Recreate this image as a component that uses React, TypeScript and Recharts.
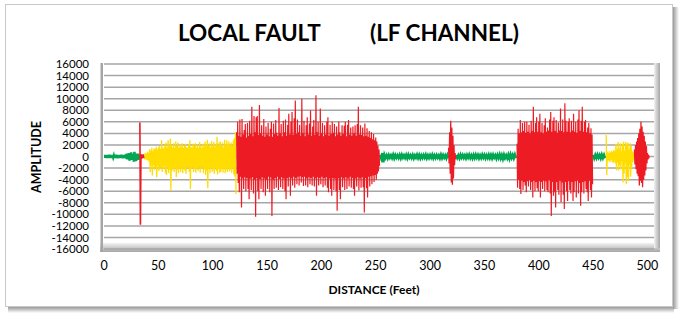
import { CartesianGrid, Line, LineChart, XAxis, YAxis } from "recharts";

const GREEN = "#00A651";
const YELLOW = "#FFDD00";
const RED = "#ED1C24";
const FONT = "Lato, 'Liberation Sans', sans-serif";

const xTicks = [0, 50, 100, 150, 200, 250, 300, 350, 400, 450, 500];
const yTicks = [
  -16000, -14000, -12000, -10000, -8000, -6000, -4000, -2000, 0, 2000, 4000,
  6000, 8000, 10000, 12000, 14000, 16000,
];

// each trace: first distance (ft), spacing (ft), upper peaks, lower peaks

// 0 - 32 ft, green
const green1Hi = [150, 250, 200, 250, 150, 300, 200, 250, 200, 150, 250, 300, 200, 250, 200, 250, 300, 200, 250, 200, 350, 500, 300, 600, 350, 700, 400, 450, 800, 500, 400, 500, 300];
const green1Lo = [-200, -150, -250, -200, -250, -150, -250, -200, -150, -250, -200, -250, -300, -200, -250, -150, -250, -300, -250, -200, -350, -500, -350, -700, -400, -600, -450, -900, -600, -800, -450, -600, -350];

// 33 - 36 ft, red spike
const spikeHi = [5900, 400, 300, 350];
const spikeLo = [-11800, -400, -300, -300];

// 37 - 121 ft, yellow
const yellow1Hi = [
  400, 600, 500, 800, 600, 1300, 1000, 1500, 900, 1400,
  1300, 1700, 1200, 1500, 1800, 1300, 2800, 1600, 1400, 2000,
  2400, 1500, 2800, 1800, 3100, 2000, 1600, 2300, 1500, 2600,
  1800, 2400, 1500, 2100, 1700, 2300, 1500, 1800, 2200, 1600,
  1500, 2100, 2800, 1700, 1500, 2200, 1800, 2300, 1600, 2100,
  1500, 2500, 1900, 1500, 2200, 1700, 2600, 2000, 2900, 1800,
  2300, 1600, 2700, 2000, 2500, 1700, 2200, 3400, 1900, 2400,
  2600, 1800, 2400, 1600, 2900, 2000, 2800, 2200, 2600, 1900,
  2400, 1800, 2800, 3200, 4200,
];
const yellow1Lo = [
  -500, -400, -700, -600, -900, -2700, -1600, -3300, -1500, -2300,
  -1800, -3600, -1600, -2500, -2200, -1800, -2700, -2100, -1700, -2900,
  -3200, -1900, -2900, -2300, -5900, -2500, -1900, -2700, -2000, -3600,
  -2300, -2900, -1900, -2700, -2100, -2900, -1800, -2500, -3000, -2000,
  -1800, -2700, -5600, -2100, -1900, -2700, -2200, -2800, -2000, -2500,
  -1900, -2800, -2100, -1800, -2900, -2200, -3200, -2400, -5500, -2100,
  -2900, -2000, -2700, -2300, -3000, -2000, -2500, -3100, -2100, -2800,
  -2700, -2100, -2800, -1900, -2900, -2300, -2700, -2000, -2600, -2200,
  -2800, -1900, -3100, -3500, -6500,
];

// 122 - 253 ft, red
const red1Hi = [
  4200, 6000, 3600, 6400, 3400, 6500, 3800, 4600, 5600, 3300,
  5800, 3600, 6200, 3900, 8600, 3500, 7000, 4200, 6800, 7000,
  3700, 8900, 4000, 5400, 3600, 6500, 3400, 5200, 3800, 5800,
  3500, 4800, 6000, 3400, 5700, 3900, 6300, 4100, 3600, 8400,
  4000, 5600, 3500, 6200, 4200, 6400, 3600, 5500, 7400, 3800,
  6000, 7700, 3700, 6600, 9700, 3900, 6400, 4200, 5500, 3600,
  10000, 4000, 6200, 3500, 5400, 6800, 3800, 5700, 8000, 3600,
  5200, 6300, 3700, 10600, 4200, 6000, 3600, 8300, 4000, 5800,
  3500, 5400, 3800, 6000, 6800, 3600, 5500, 3900, 6000, 4100,
  5600, 3500, 5200, 3800, 6000, 4200, 3600, 5400, 3900, 5300,
  6000, 3500, 5500, 6300, 3800, 5000, 3600, 5200, 4000, 5400,
  3600, 5600, 8600, 3800, 5400, 3700, 5000, 3500, 5700, 3600,
  4900, 3400, 4400, 3200, 4200, 3000, 3900, 2800, 3300, 2600,
  1900, 1200,
];
const red1Lo = [
  -3000, -4600, -6200, -3500, -8800, -3800, -5600, -3600, -6000, -3700,
  -5600, -7400, -3800, -5800, -3600, -6400, -4000, -10400, -3700, -6000,
  -7400, -3900, -5600, -3600, -6200, -3800, -6800, -4000, -5600, -3500,
  -6200, -3600, -10300, -4000, -5600, -3700, -5400, -3500, -5800, -3900,
  -5300, -3600, -5600, -3800, -6000, -7400, -3700, -5200, -3600, -6800,
  -3800, -5000, -3500, -5400, -3700, -4800, -3500, -5000, -3400, -4500,
  -3600, -5100, -3500, -5000, -3800, -5300, -3600, -4800, -3700, -5000,
  -3500, -5200, -3800, -6800, -3600, -5000, -3700, -4800, -3500, -5300,
  -3700, -5000, -3600, -5400, -6200, -3800, -5600, -6800, -3700, -5800,
  -3800, -6000, -9400, -3700, -5800, -7400, -3600, -5300, -3800, -5800,
  -3600, -5600, -3800, -5200, -3500, -5400, -3700, -5600, -6800, -3800,
  -5200, -3600, -5900, -3800, -5400, -3600, -5300, -9700, -3700, -5500,
  -7100, -3500, -5200, -3400, -4800, -3300, -4400, -3200, -4000, -3000,
  -2600, -1600,
];

// 254 - 316 ft, green (every 2 ft)
const green2Hi = [300, 600, 250, 200, 250, 200, 300, 250, 200, 250, 300, 200, 250, 300, 200, 250, 200, 300, 250, 200, 250, 300, 200, 250, 300, 200, 250, 200, 300, 250, 200, 250];
const green2Lo = [-300, -1000, -250, -300, -200, -250, -300, -200, -250, -300, -200, -250, -300, -200, -250, -300, -200, -250, -300, -250, -200, -300, -250, -200, -300, -250, -200, -300, -250, -200, -300, -250];

// 317 - 323 ft, red burst
const burstHi = [1500, 4200, 6200, 5000, 3600, 2000, 600];
const burstLo = [-1200, -3000, -4500, -4900, -3800, -1500, -500];

// 324 - 378 ft, green (every 2 ft)
const green3Hi = [250, 200, 300, 250, 200, 250, 300, 200, 250, 300, 250, 200, 300, 250, 200, 300, 250, 300, 200, 250, 350, 250, 300, 200, 300, 350, 250, 300];
const green3Lo = [-250, -300, -200, -250, -300, -200, -250, -300, -250, -200, -300, -250, -200, -300, -250, -250, -300, -200, -350, -250, -300, -400, -250, -300, -350, -250, -300, -300];

// 380 - 449 ft, red
const red2Hi = [
  2200, 4800, 4000, 6300, 4200, 5800, 4400, 6000, 4100, 6000,
  4300, 5500, 4000, 6200, 4400, 8600, 4200, 5800, 6800, 4300,
  6000, 7400, 4200, 5800, 4000, 5400, 6600, 4300, 5000, 4500,
  6400, 7700, 4300, 6200, 6800, 4400, 6300, 4100, 5900, 4500,
  8300, 4400, 6400, 4200, 9200, 6200, 4300, 6000, 6600, 4200,
  6200, 4500, 7400, 4300, 6000, 4100, 6400, 8000, 4400, 6200,
  8600, 4300, 6000, 6300, 4200, 5000, 5800, 4000, 4900, 3800,
];
const red2Lo = [
  -5400, -4000, -5600, -6500, -4200, -5800, -4400, -5000, -6200, -4300,
  -5200, -4100, -5800, -4400, -7100, -4200, -6000, -4400, -5500, -6000,
  -4300, -7100, -4400, -5600, -4200, -6000, -4300, -5800, -6200, -4100,
  -6400, -10300, -4400, -6800, -6200, -8800, -4400, -5800, -6600, -4200,
  -7900, -4500, -6600, -9100, -4400, -6000, -7700, -4300, -5800, -6400,
  -4400, -7700, -6200, -4300, -7100, -4200, -6400, -4600, -8500, -6200,
  -4400, -6400, -4300, -5600, -6200, -7700, -4200, -5800, -7100, -4800,
];

// 450 - 460 ft, green (every 2 ft)
const green4Hi = [300, 250, 300, 250, 300, 250];
const green4Lo = [-300, -250, -200, -300, -250, -300];

// 462 - 487 ft, yellow
const yellow2Hi = [3700, 800, 600, 900, 700, 1000, 800, 1100, 900, 2200, 1200, 2500, 1400, 2300, 900, 2200, 2600, 1000, 2500, 2200, 2400, 1200, 2300, 1800, 900, 700];
const yellow2Lo = [-3200, -800, -700, -1000, -600, -900, -1100, -800, -1200, -2400, -1000, -2400, -1500, -2200, -800, -4500, -3000, -1200, -4800, -3600, -4200, -1500, -3500, -2000, -1000, -600];

// 488 - 501 ft, red
const red3Hi = [1200, 2000, 2600, 3200, 4000, 4800, 6000, 5200, 4300, 3600, 2600, 1800, 600, 300];
const red3Lo = [-1400, -2200, -3000, -3400, -5000, -4200, -4600, -5300, -4000, -3300, -2400, -1200, -500, -300];

type Pt = { x: number; y: number };

function trace(start: number, step: number, hi: number[], lo: number[]): Pt[] {
  const pts: Pt[] = [];
  hi.forEach((h, i) => {
    pts.push({ x: start + i * step, y: h });
    pts.push({ x: start + i * step + step / 2, y: lo[i] });
  });
  return pts;
}

const traces = [
  { id: "g1", color: GREEN, w: 2.5, data: trace(0, 1, green1Hi, green1Lo) },
  { id: "g2", color: GREEN, w: 2.5, data: trace(254, 2, green2Hi, green2Lo) },
  { id: "g3", color: GREEN, w: 2.5, data: trace(324, 2, green3Hi, green3Lo) },
  { id: "g4", color: GREEN, w: 2.5, data: trace(450, 2, green4Hi, green4Lo) },
  { id: "y1", color: YELLOW, w: 1.3, data: trace(37, 1, yellow1Hi, yellow1Lo) },
  { id: "y2", color: YELLOW, w: 1.3, data: trace(462, 1, yellow2Hi, yellow2Lo) },
  { id: "s1", color: RED, w: 1.6, data: trace(33, 1, spikeHi, spikeLo) },
  { id: "r1", color: RED, w: 1.2, data: trace(122, 1, red1Hi, red1Lo) },
  { id: "b1", color: RED, w: 1.3, data: trace(317, 1, burstHi, burstLo) },
  { id: "r2", color: RED, w: 1.2, data: trace(380, 1, red2Hi, red2Lo) },
  { id: "r3", color: RED, w: 1.3, data: trace(488, 1, red3Hi, red3Lo) },
];

const tickStyle = { fontSize: 11.5, fill: "#000", fontFamily: FONT };

export default function App() {
  return (
    <div style={{ position: "absolute", left: 0, top: 0, width: 680, height: 315, background: "#fff" }}>
      <svg width={680} height={315} style={{ position: "absolute", left: 0, top: 0 }}>
        <defs>
          <linearGradient id="floor" x1="0" y1="0" x2="0" y2="1">
            <stop offset="0%" stopColor="#f2f2f2" />
            <stop offset="100%" stopColor="#a6a6a6" />
          </linearGradient>
          <linearGradient id="side" x1="0" y1="0" x2="1" y2="0">
            <stop offset="0%" stopColor="#f2f2f2" />
            <stop offset="100%" stopColor="#a6a6a6" />
          </linearGradient>
          <linearGradient id="shadowB" x1="0" y1="0" x2="0" y2="1">
            <stop offset="0%" stopColor="#9a9a9a" />
            <stop offset="100%" stopColor="#ffffff" />
          </linearGradient>
          <linearGradient id="shadowR" x1="0" y1="0" x2="1" y2="0">
            <stop offset="0%" stopColor="#9a9a9a" />
            <stop offset="100%" stopColor="#ffffff" />
          </linearGradient>
        </defs>
        <rect x={8} y={307} width={666} height={6} fill="url(#shadowB)" />
        <rect x={673} y={7} width={6} height={302} fill="url(#shadowR)" />
        <rect x={5.5} y={4.5} width={667} height={302} fill="#fff" stroke="#c8c8c8" />
        <rect x={100} y={243} width={560} height={9} fill="url(#floor)" />
        <rect x={654} y={63} width={6} height={185} fill="url(#side)" />
        <rect x={100.5} y={63} width={2.5} height={189} fill="#a6a6a6" />
        <text x={178} y={41} fontFamily={FONT} fontWeight="bold" fontSize={22.5} fill="#000">
          LOCAL FAULT
        </text>
        <text x={370} y={41} fontFamily={FONT} fontWeight="bold" fontSize={22.5} fill="#000">
          (LF CHANNEL)
        </text>
        <text
          x={0}
          y={0}
          transform="translate(41 157) rotate(-90)"
          textAnchor="middle"
          fontFamily={FONT}
          fontWeight="bold"
          fontSize={12.5}
          fill="#000"
        >
          AMPLITUDE
        </text>
        <text x={374} y={294} textAnchor="middle" fontFamily={FONT} fontWeight="bold" fontSize={12} fill="#000">
          DISTANCE (Feet)
        </text>
      </svg>
      <div style={{ position: "absolute", left: 0, top: 0 }}>
        <LineChart width={680} height={315} margin={{ top: 64, right: 26, bottom: 36, left: 34 }}>
          <CartesianGrid vertical={false} stroke="#a6a6a6" strokeWidth={1.5} />
          <XAxis
            type="number"
            dataKey="x"
            domain={[0, 506]}
            ticks={xTicks}
            interval={0}
            allowDataOverflow
            axisLine={false}
            tickLine={false}
            tickSize={0}
            tickMargin={12}
            height={30}
            tick={{ ...tickStyle, fontSize: 12.5 }}
          />
          <YAxis
            type="number"
            domain={[-16000, 16000]}
            ticks={yTicks}
            interval={0}
            allowDataOverflow
            axisLine={false}
            tickLine={false}
            tickSize={0}
            tickMargin={15}
            width={70}
            tick={tickStyle}
          />
          {traces.map((t) => (
            <Line
              key={t.id}
              data={t.data}
              dataKey="y"
              type="linear"
              stroke={t.color}
              strokeWidth={t.w}
              dot={false}
              activeDot={false}
              isAnimationActive={false}
            />
          ))}
        </LineChart>
      </div>
    </div>
  );
}
